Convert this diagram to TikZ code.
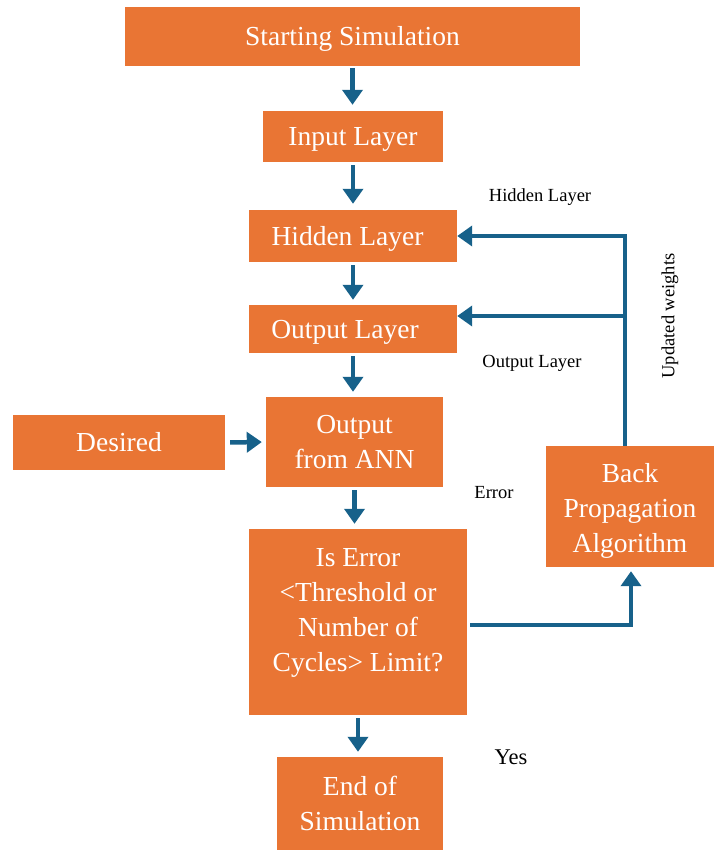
\documentclass[tikz,border=0pt]{standalone}
\usepackage{fontspec}
\setmainfont{Liberation Serif}
\usepackage{xcolor}
\usepackage{tikz}
\usetikzlibrary{arrows.meta}

\definecolor{boxorange}{HTML}{E97534}
\definecolor{arrowblue}{HTML}{17618A}

\begin{document}
\begin{tikzpicture}[x=1pt, y=-1pt,
    box/.style={fill=boxorange, text=white, inner sep=0pt, align=center,
                font=\fontsize{27.5}{35}\selectfont},
    line/.style={box, text height=24.5pt, text depth=6pt},
    flow/.style={draw=arrowblue, line width=4.5pt,
                 -{Triangle[width=20pt,length=15pt]}},
    note/.style={inner sep=0pt, font=\fontsize{18.5}{22}\selectfont}]
            \useasboundingbox (0, 0) rectangle (715, 850);

            % boxes
            \node[line, minimum width=455, minimum height=59] (start) at (352.5, 36.5) {Starting Simulation};
            \node[line, minimum width=180, minimum height=51] (input) at (353, 136.5) {Input Layer};
            \node[line, minimum width=208, minimum height=52] (hidden) at (353, 236) {Hidden Layer\hspace*{11pt}};
            \node[line, minimum width=208, minimum height=48] (output) at (353, 329) {Output Layer\hspace*{16pt}};
            \node[line, minimum width=212, minimum height=55] (desired) at (119, 442.5) {Desired};
            \node[box, minimum width=177, minimum height=90] (ann) at (354.5, 442) {\raisebox{-1.5pt}[\height][\depth]{\begin{tabular}{@{}c@{}}Output\\from ANN\end{tabular}}};
            \node[box, minimum width=168, minimum height=121] (backprop) at (630, 506.5) {\raisebox{-4pt}[\height][\depth]{\begin{tabular}{@{}c@{}}Back\\Propagation\\Algorithm\end{tabular}}};
            \node[box, minimum width=218, minimum height=186] (check) at (358, 622) {\raisebox{10pt}[\height][\depth]{\begin{tabular}{@{}c@{}}Is Error\\{<}Threshold or\\Number of\\Cycles{>} Limit?\end{tabular}}};
            \node[box, minimum width=166, minimum height=93] (end) at (360, 803.5) {End of\\Simulation};

            % labels
            \node[note] (hiddenlbl) at (540, 197) {Hidden Layer};
            \node[note] (outputlbl) at (532, 363) {Output Layer};
            \node[note, rotate=90] (weightlbl) at (670, 316) {Updated weights};
            \node[note] (errorlbl) at (494, 493) {Error};
            \node[note, font=\fontsize{22.5}{26}\selectfont] (yeslbl) at (511, 757) {Yes};

            % main flow
            \draw[flow, shorten <=2pt, shorten >=6pt] (start.south) -- (start.south |- input.north);
            \draw[flow, shorten <=3pt, shorten >=6pt] (input.south) -- (input.south |- hidden.north);
            \draw[flow, shorten <=3pt, shorten >=5pt] (hidden.south) -- (hidden.south |- output.north);
            \draw[flow, shorten <=3pt, shorten >=5pt] (output.south) -- (output.south |- ann.north);
            \draw[flow, shorten <=3pt, shorten >=5pt] (ann.south) -- (ann.south |- check.north);
            \draw[flow, shorten <=3pt, shorten >=5pt] (check.south) -- (check.south |- end.north);
            \draw[flow, shorten <=5pt, shorten >=4pt] (desired.east) -- (ann.west);

            % feedback
            \coordinate (up) at (625, 236);
            \coordinate (branch) at (625, 316);
            \coordinate (turn) at (631, 625);
            \draw[flow] (backprop.north -| up) -- (up) -- (hidden.east);
            \draw[flow] (branch) -- (output.east |- branch);
            \draw[flow, shorten >=4pt] (check.east |- turn) ++(3, 0) -- (turn) -- (backprop.south -| turn);
\end{tikzpicture}
\end{document}
